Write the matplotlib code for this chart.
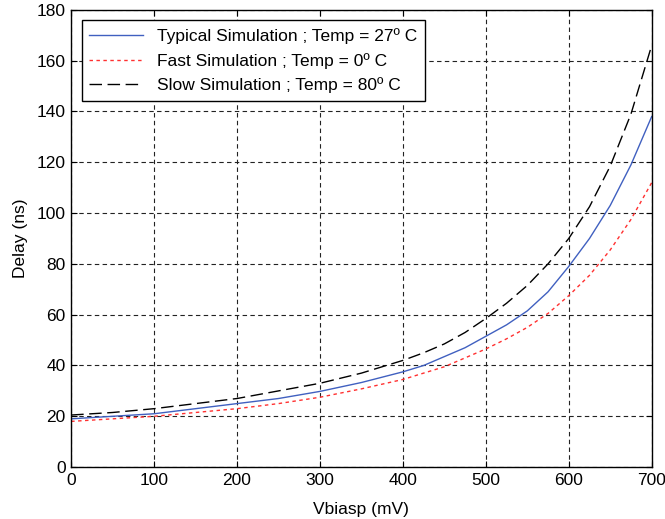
import matplotlib
matplotlib.use("Agg")
import matplotlib.pyplot as plt

plt.rcParams['font.family'] = ['Liberation Sans', 'DejaVu Sans']

vbias = [0, 50, 100, 150, 200, 250, 300, 350, 400, 425, 450, 475, 500,
         525, 550, 575, 600, 625, 650, 675, 700]
typical = [19, 20, 21, 23, 25, 27, 29.8, 33.3, 37.5, 40, 43.5, 47, 51.5,
           56, 61.5, 69, 79, 90, 103, 119, 138]
fast = [18, 19, 20, 21.5, 23, 25, 27.5, 30.8, 34.5, 37, 39.5, 43, 46.5,
        50.5, 55, 60.5, 67.5, 75.5, 85.5, 97.5, 112]
slow = [20.5, 21.5, 23, 25, 27, 30, 33, 37, 42, 45, 48.5, 53, 58.5,
        64.5, 71.5, 80, 90, 102.5, 118.5, 139, 166]

labels = ["Typical Simulation ; Temp = 27º C",
          "Fast Simulation ; Temp = 0º C",
          "Slow Simulation ; Temp = 80º C"]

fig = plt.figure(figsize=(6.65, 5.19), dpi=100)
ax = fig.add_axes([0.107, 0.100, 0.873, 0.881])

ax.plot(vbias, typical, color="#4060c0", lw=1.0, label=labels[0])
ax.plot(vbias, fast, color="#ff3030", lw=1.0, linestyle=(0, (2.5, 2.5)), label=labels[1])
ax.plot(vbias, slow, color="black", lw=1.0, linestyle=(0, (9, 4)), label=labels[2])

ax.set_xlim(0, 700)
ax.set_ylim(0, 180)
ax.set_xticks(range(0, 701, 100))
ax.set_yticks(range(0, 181, 20))
ax.grid(True, color="#222222", linestyle=(0, (4, 3)), lw=0.8)
ax.tick_params(direction="in", top=True, right=True, labelsize=12.5, length=4, pad=4)
for s in ax.spines.values():
    s.set_linewidth(1.0)

ax.set_xlabel("Vbiasp (mV)", fontsize=12.5, labelpad=10)
ax.set_ylabel("Delay (ns)", fontsize=12.5, labelpad=6)

leg = ax.legend(loc="upper left", fontsize=12.5, fancybox=False, framealpha=1,
                edgecolor="black", handlelength=3.1, borderaxespad=0.6,
                labelspacing=0.5, borderpad=0.45)
leg.get_frame().set_linewidth(1.0)

fig.savefig("out.png", dpi=100)
